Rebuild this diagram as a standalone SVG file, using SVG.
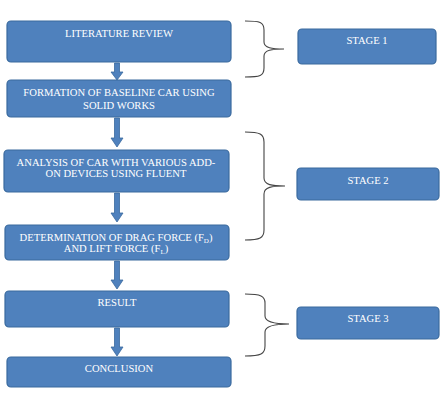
<svg xmlns="http://www.w3.org/2000/svg" width="444" height="400" viewBox="0 0 444 400">
<defs>
<style>
.box{fill:#4F81BD;stroke:#3A6A9E;stroke-width:1.2}
.t{font-family:"Liberation Serif","Times New Roman",serif;font-size:10.6px;fill:#ffffff;text-anchor:middle}
.brace{fill:none;stroke:#444;stroke-width:1.1}
.arrow{fill:#4F81BD;stroke:#3A6A9E;stroke-width:0.8}
.sub{font-size:7px}
</style>
</defs>
<rect width="444" height="400" fill="#ffffff"/>
<g id="connectors">
<path class="arrow" d="M114.5,63 H119.5 V72 H123 L117,80 L111,72 H114.5 Z"/>
<path class="arrow" d="M114.5,118 H119.5 V138 H123 L117,147 L111,138 H114.5 Z"/>
<path class="arrow" d="M114.5,193 H119.5 V213 H123 L117,222 L111,213 H114.5 Z"/>
<path class="arrow" d="M114.5,261 H119.5 V280 H123 L117,289 L111,280 H114.5 Z"/>
<path class="arrow" d="M114.5,328 H119.5 V347 H123 L117,356 L111,347 H114.5 Z"/>
<path class="brace" d="M245,21 C260,21 264,22 264,30 V42 C264,48 272,49 284,49 C272,49 264,50 264,56 V68 C264,76 260,77 245,77"/>
<path class="brace" d="M245,132 C260,132 264,134 264,142 V178 C264,185 272,186 285,186 C272,186 264,187 264,194 V230 C264,238 260,240 245,240"/>
<path class="brace" d="M245,294 C261,294 265,296 265,303 V316 C265,322 274,324 289,324 C274,324 265,326 265,332 V346 C265,354 261,356 245,356"/>
</g>
<g id="n1"><rect class="box" x="7" y="21" width="224" height="41" rx="4"/><text class="t" x="119" y="37">LITERATURE REVIEW</text></g>
<g id="n2"><rect class="box" x="7" y="80" width="224" height="37" rx="4"/><text class="t" x="119" y="96">FORMATION OF BASELINE CAR USING</text><text class="t" x="119" y="109">SOLID WORKS</text></g>
<g id="n3"><rect class="box" x="4" y="150" width="225" height="42" rx="4"/><text class="t" x="116" y="166">ANALYSIS OF CAR WITH VARIOUS ADD-</text><text class="t" x="116" y="177">ON DEVICES USING FLUENT</text></g>
<g id="n4"><rect class="box" x="5" y="225" width="224" height="35" rx="4"/><text class="t" x="116" y="241">DETERMINATION OF DRAG FORCE (F<tspan class="sub" dy="1.5">D</tspan><tspan dy="-1.5">)</tspan></text><text class="t" x="116" y="252">AND LIFT FORCE (F<tspan class="sub" dy="1.5">L</tspan><tspan dy="-1.5">)</tspan></text></g>
<g id="n5"><rect class="box" x="5" y="291" width="224" height="36" rx="4"/><text class="t" x="117" y="306">RESULT</text></g>
<g id="n6"><rect class="box" x="7" y="357" width="224" height="30" rx="4"/><text class="t" x="119" y="372">CONCLUSION</text></g>
<g id="s1"><rect class="box" x="298" y="29" width="138" height="35" rx="4"/><text class="t" x="367" y="44">STAGE 1</text></g>
<g id="s2"><rect class="box" x="297" y="168" width="142" height="32" rx="4"/><text class="t" x="368" y="184">STAGE 2</text></g>
<g id="s3"><rect class="box" x="297" y="307" width="142" height="32" rx="4"/><text class="t" x="368" y="322">STAGE 3</text></g>
</svg>
